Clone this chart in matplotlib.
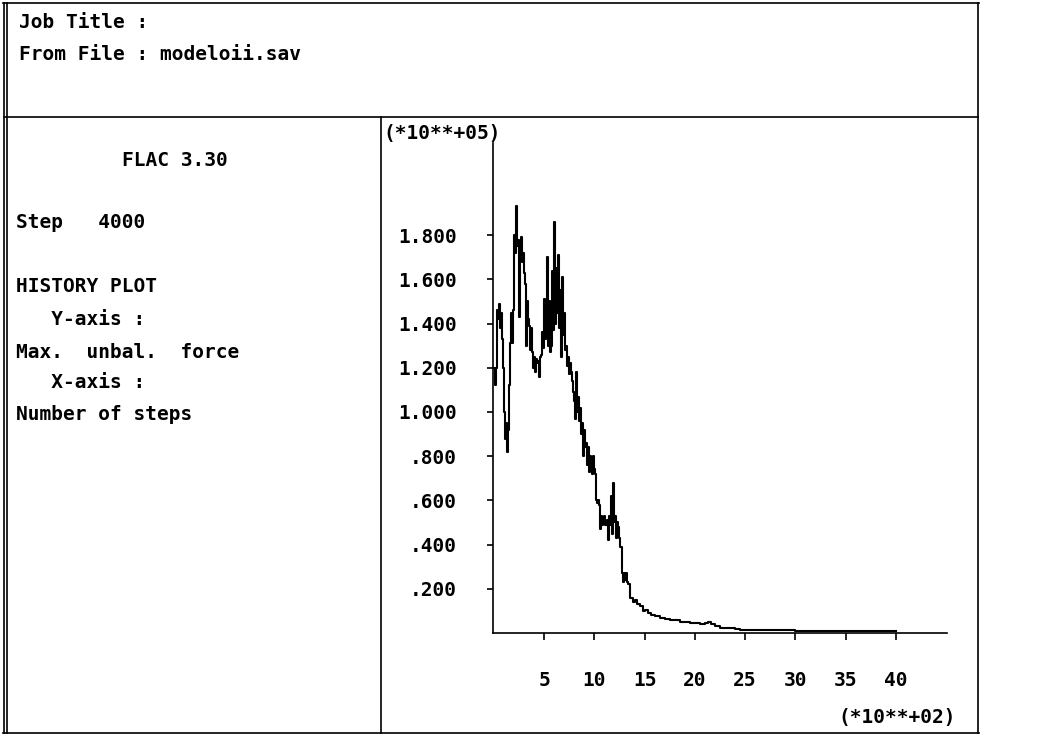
import matplotlib
matplotlib.use("Agg")
import matplotlib.pyplot as plt
from matplotlib.lines import Line2D

# ---------------- data (x in units of 100 steps, y in units of 1e5) ----------------
steps_early = [round(0.1 * i, 1) for i in range(136)]
force_early = [
    1.20, 1.12, 1.20, 1.46, 1.42, 1.49, 1.38, 1.45, 1.33, 1.20,
    1.00, 0.88, 0.95, 0.82, 0.92, 1.12, 1.31, 1.45, 1.31, 1.46,
    1.80, 1.72, 1.93, 1.75, 1.78, 1.43, 1.76, 1.79, 1.68, 1.72,
    1.63, 1.58, 1.30, 1.50, 1.42, 1.39, 1.28, 1.38, 1.27, 1.20,
    1.25, 1.18, 1.24, 1.22, 1.23, 1.16, 1.25, 1.26, 1.36, 1.29,
    1.51, 1.33, 1.44, 1.70, 1.30, 1.50, 1.27, 1.30, 1.64, 1.37,
    1.86, 1.40, 1.65, 1.45, 1.71, 1.38, 1.55, 1.25, 1.61, 1.35,
    1.45, 1.28, 1.30, 1.21, 1.25, 1.17, 1.22, 1.18, 1.14, 1.09,
    1.05, 0.97, 1.18, 1.00, 1.07, 0.96, 1.02, 0.90, 0.95, 0.80,
    0.92, 0.84, 0.86, 0.76, 0.84, 0.73, 0.80, 0.78, 0.72, 0.80,
    0.74, 0.72, 0.60, 0.59, 0.60, 0.58, 0.47, 0.53, 0.49, 0.50,
    0.53, 0.49, 0.51, 0.42, 0.53, 0.49, 0.62, 0.45, 0.68, 0.50,
    0.53, 0.43, 0.50, 0.48, 0.43, 0.39, 0.39, 0.27, 0.23, 0.27,
    0.24, 0.27, 0.23, 0.22, 0.22, 0.157,
]
steps_late = [13.6, 13.8, 14.0, 14.2, 14.5, 14.8, 15.0, 15.3, 15.6, 16.0,
              16.5, 17.0, 17.5, 18.0, 18.5, 19.0, 19.5, 20.0, 20.5, 21.0,
              21.3, 21.6, 22.0, 22.5, 23.0, 24.0, 24.5, 26.0, 28.0, 30.0,
              32.0, 35.0, 38.0, 40.0]
force_late = [0.157, 0.14, 0.15, 0.13, 0.12, 0.10, 0.105, 0.09, 0.08, 0.075,
              0.068, 0.065, 0.06, 0.058, 0.052, 0.050, 0.047, 0.044, 0.040, 0.043,
              0.050, 0.040, 0.030, 0.022, 0.021, 0.020, 0.015, 0.014, 0.012, 0.010,
              0.009, 0.008, 0.008, 0.008]

x_ticks = [5, 10, 15, 20, 25, 30, 35, 40]
x_tick_labels = ["5", "10", "15", "20", "25", "30", "35", "40"]
y_ticks = [0.2, 0.4, 0.6, 0.8, 1.0, 1.2, 1.4, 1.6, 1.8]
y_tick_labels = [".200", ".400", ".600", ".800", "1.000", "1.200", "1.400", "1.600", "1.800"]

header_lines = ["Job Title :", "From File : modeloii.sav"]
info_title = "FLAC 3.30"
info_lines = ["Step   4000", "HISTORY PLOT", "   Y-axis :", "Max.  unbal.  force",
              "   X-axis :", "Number of steps"]
y_scale_label = "(*10**+05)"
x_scale_label = "(*10**+02)"

# ---------------- figure ----------------
W, H = 1053, 736
fig = plt.figure(figsize=(W / 100, H / 100), dpi=100)
fig.patch.set_facecolor("white")

FONT = dict(family="DejaVu Sans Mono", weight="bold", size=14, color="black")


def fx(px):
    return px / W


def fy(py):
    return 1 - py / H


def hline(x0, x1, y, lw=1.2):
    fig.add_artist(Line2D([fx(x0), fx(x1)], [fy(y), fy(y)], color="black", lw=lw,
                          transform=fig.transFigure))


def vline(x, y0, y1, lw=1.2):
    fig.add_artist(Line2D([fx(x), fx(x)], [fy(y0), fy(y1)], color="black", lw=lw,
                          transform=fig.transFigure))


# frame
hline(3, 979, 3)
hline(3, 979, 733)
vline(4, 3, 733)
vline(7, 3, 733)
vline(978, 3, 733)
hline(4, 978, 117)
vline(381, 117, 733)

# header text
fig.text(fx(19), fy(23), header_lines[0], ha="left", va="center", **FONT)
fig.text(fx(19), fy(54), header_lines[1], ha="left", va="center", **FONT)

# info panel
fig.text(fx(122), fy(160), info_title, ha="left", va="center", **FONT)
info_y = [223, 287, 320, 352, 383, 415]
for txt, yy in zip(info_lines, info_y):
    fig.text(fx(16), fy(yy), txt, ha="left", va="center", **FONT)

# plot axes
ax_left, ax_right = 493, 947
ax_top, ax_bottom = 143, 633
ax = fig.add_axes([fx(ax_left), fy(ax_bottom), (ax_right - ax_left) / W,
                   (ax_bottom - ax_top) / H])
ax.set_xlim(-0.1, 45.1)
ax.set_ylim(0, 2.217)
ax.patch.set_alpha(0)

ax.plot(steps_early + steps_late, force_early + force_late, color="black",
        lw=1.5, drawstyle="steps-post")

for s in ["top", "right"]:
    ax.spines[s].set_visible(False)
for s in ["left", "bottom"]:
    ax.spines[s].set_linewidth(1.2)

ax.set_xticks(x_ticks)
ax.set_xticklabels(x_tick_labels, fontdict=FONT)
ax.set_yticks(y_ticks)
ax.set_yticklabels(y_tick_labels, fontdict=FONT)
ax.tick_params(axis="y", direction="out", length=4, width=1.2, pad=22)
ax.tick_params(axis="x", direction="out", length=5, width=1.2, pad=22)

fig.text(fx(383), fy(133), y_scale_label, ha="left", va="center", **FONT)
fig.text(fx(956), fy(718), x_scale_label, ha="right", va="center", **FONT)

fig.savefig("out.png", dpi=100, facecolor="white")
